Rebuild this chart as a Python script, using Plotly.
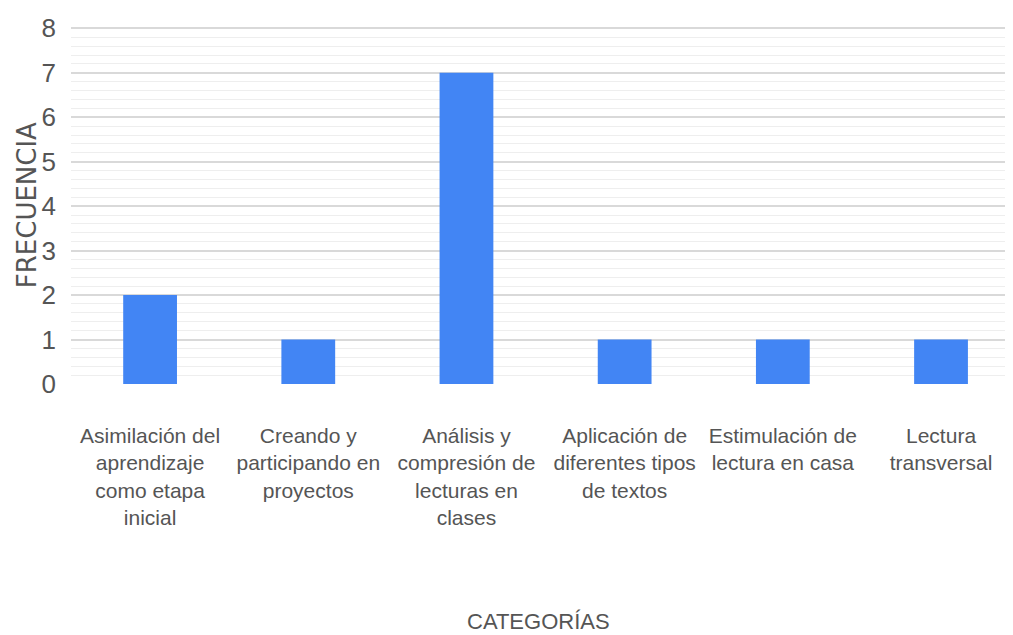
import plotly.graph_objects as go

categories = [
    "Asimilación del<br>aprendizaje<br>como etapa<br>inicial",
    "Creando y<br>participando en<br>proyectos",
    "Análisis y<br>compresión de<br>lecturas en<br>clases",
    "Aplicación de<br>diferentes tipos<br>de textos",
    "Estimulación de<br>lectura en casa",
    "Lectura<br>transversal",
]
values = [2, 1, 7, 1, 1, 1]
y_ticks = [0, 1, 2, 3, 4, 5, 6, 7, 8]

font_main = "Liberation Sans, Arial, sans-serif"
grey = "#555555"

fig = go.Figure(go.Bar(
    x=list(range(len(categories))),
    y=values,
    width=0.34,
    marker=dict(color="#4285f4", line=dict(width=0)),
))

# page body has an 8px default margin, so the figure is offset by 8px
fig.update_layout(
    width=1005, height=627,
    margin=dict(l=63, r=0, t=19, b=251),
    paper_bgcolor="white", plot_bgcolor="white",
    showlegend=False,
    xaxis=dict(
        range=[-0.5, 5.455],
        tickmode="array",
        tickvals=list(range(len(categories))),
        ticktext=categories,
        tickfont=dict(family=font_main, size=21, color=grey),
        ticklabelstandoff=37,
        showgrid=False, zeroline=False, showline=False,
        tickangle=0,
    ),
    yaxis=dict(
        range=[0, 8.03],
        tickmode="array",
        tickvals=y_ticks,
        ticktext=[str(v) for v in y_ticks],
        tickfont=dict(family=font_main, size=26, color=grey),
        ticklabelstandoff=14,
        showgrid=True, gridcolor="#d9d9d9", gridwidth=2,
        zeroline=False, showline=False,
        minor=dict(dtick=0.2, showgrid=True, gridcolor="#eeeeee", gridwidth=1),
    ),
    annotations=[
        dict(text="FRECUENCIA", xref="paper", yref="paper",
             x=-0.047, y=0.5, xanchor="center", yanchor="middle",
             textangle=-90, showarrow=False,
             font=dict(family="DejaVu Sans, sans-serif", size=26, color=grey)),
        dict(text="CATEGORÍAS", xref="paper", yref="paper",
             x=0.496, y=-0.665, xanchor="center", yanchor="middle",
             showarrow=False,
             font=dict(family=font_main, size=22, color=grey)),
    ],
)

fig.write_html("out.html")
